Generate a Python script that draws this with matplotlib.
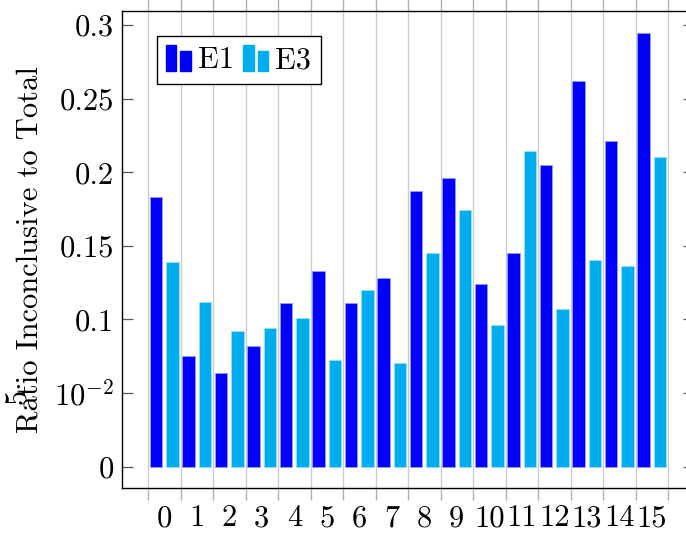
import matplotlib
matplotlib.use("Agg")
import matplotlib.pyplot as plt
from matplotlib.patches import Rectangle
from matplotlib.legend_handler import HandlerBase
import numpy as np

plt.rcParams["font.family"] = "serif"
plt.rcParams["font.serif"] = ["cmr10", "DejaVu Serif"]
plt.rcParams["mathtext.fontset"] = "cm"
plt.rcParams["axes.formatter.use_mathtext"] = True

categories = [str(i) for i in range(16)]
e1 = [0.183, 0.0752, 0.0634, 0.0818, 0.1110, 0.1329, 0.1114, 0.1280,
      0.1871, 0.1959, 0.1239, 0.1454, 0.2047, 0.2620, 0.2211, 0.2948]
e3 = [0.1389, 0.1119, 0.0922, 0.0940, 0.1010, 0.0725, 0.1200, 0.0702,
      0.1450, 0.1742, 0.0963, 0.2145, 0.1069, 0.1404, 0.1366, 0.2102]
ytick_vals = [0, 0.05, 0.1, 0.15, 0.2, 0.25, 0.3]
ytick_labels = ["0", r"$10^{-2}$", "0.1", "0.15", "0.2", "0.25", "0.3"]

C_E1 = "#0000ff"
C_E3 = "#00aeef"
FS = 22

W, H = 686, 539
fig = plt.figure(figsize=(W / 100, H / 100), dpi=100)
ax = fig.add_axes([122 / W, 1 - 488 / H, (694 - 122) / W, (488 - 11) / H])

x = np.arange(len(categories))
bw = 0.38
ax.bar(x - 0.25, e1, bw, color=C_E1, edgecolor="#9999ff", linewidth=0.6, zorder=3)
ax.bar(x + 0.25, e3, bw, color=C_E3, edgecolor="#99dff9", linewidth=0.6, zorder=3)

ax.set_xlim(-1.3, 16.3)
ax.set_ylim(-0.0145, 0.3096)

# boundaries between categories carry the grid and tick marks
bounds = np.arange(-0.5, 16.0, 1.0)
ax.set_xticks(bounds)
ax.set_xticklabels([])
ax.set_xticks(x, minor=True)
ax.set_xticklabels(categories, minor=True, fontsize=FS)
ax.tick_params(axis="x", which="major", direction="out", length=8.5, width=1.0,
               color="#b0b0b0", top=True, bottom=True)
ax.tick_params(axis="x", which="minor", length=0, pad=12)
ax.grid(axis="x", which="major", color="#cccccc", linewidth=1.0, zorder=0)

ax.set_yticks(ytick_vals)
ax.set_yticklabels(ytick_labels, fontsize=FS)
ax.tick_params(axis="y", direction="in", length=8, width=0.9, color="#555555",
               left=True, right=True, pad=6)

for s in ax.spines.values():
    s.set_linewidth(1.0)
    s.set_color("black")

fig.text(30 / W, 1 - 250 / H, "Ratio Inconclusive to Total", rotation=90,
         ha="center", va="center", fontsize=FS)
fig.text(19 / W, 1 - 394 / H, r"5$\cdot$", rotation=90,
         ha="center", va="center", fontsize=FS)


class BarPairHandler(HandlerBase):
    def create_artists(self, legend, orig_handle, xdescent, ydescent,
                       width, height, fontsize, trans):
        c = orig_handle.get_facecolor()
        bwid = width * 0.42
        r1 = Rectangle((-xdescent, -ydescent), bwid, height, facecolor=c,
                       edgecolor=c, transform=trans)
        r2 = Rectangle((-xdescent + width - bwid, -ydescent), bwid, height * 0.76,
                       facecolor=c, edgecolor=c, transform=trans)
        return [r1, r2]


h1 = Rectangle((0, 0), 1, 1, facecolor=C_E1)
h3 = Rectangle((0, 0), 1, 1, facecolor=C_E3)
leg = ax.legend([h1, h3], ["E1", "E3"], handler_map={Rectangle: BarPairHandler()},
                loc="upper left", bbox_to_anchor=((157 - 122) / (694 - 122), 1 - 25 / 477),
                ncol=2, fontsize=FS, frameon=True, fancybox=False, edgecolor="black",
                framealpha=1, handlelength=0.8, handleheight=0.9, handletextpad=0.25,
                columnspacing=0.3, borderpad=0.3, borderaxespad=0)
leg.get_frame().set_linewidth(1.0)

fig.savefig("out.png", dpi=100)
